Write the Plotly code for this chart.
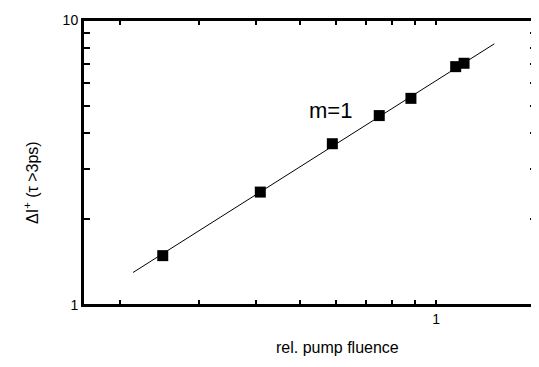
import plotly.graph_objects as go

# data (log-log)
fluence = [0.249, 0.409, 0.590, 0.749, 0.880, 1.105, 1.153]
delta_i = [1.49, 2.49, 3.68, 4.62, 5.31, 6.86, 7.05]
fit_x = [0.214, 1.345]
fit_y = [1.30, 8.25]
x_ticks = [0.2, 0.3, 0.4, 0.5, 0.6, 0.7, 0.8, 0.9, 1]
x_labels = ["", "", "", "", "", "", "", "", "1"]
y_ticks = [1, 2, 3, 4, 5, 6, 7, 8, 9, 10]
y_labels = ["1", "", "", "", "", "", "", "", "", "10"]

FONT = "Liberation Sans, Arial, sans-serif"
XR = [-0.78, 0.223]
YR = [0, 1]

fig = go.Figure()
fig.add_trace(go.Scatter(x=fit_x, y=fit_y, mode="lines",
                         line=dict(color="black", width=1), showlegend=False))
fig.add_trace(go.Scatter(x=fluence, y=delta_i, mode="markers",
                         marker=dict(symbol="square", size=11, color="black"),
                         showlegend=False))

common = dict(ticks="inside", tickwidth=2, tickcolor="black",
              showline=True, linecolor="black", linewidth=2, mirror="ticks",
              showgrid=False, zeroline=False, automargin=False)

# the page body adds an 8px offset; compensate so the plot lands where it should
W, H = 531, 351
l, r, t, b = 75, 2, 12, 54

fig.update_layout(
    width=W, height=H,
    margin=dict(l=l, r=r, t=t, b=b),
    paper_bgcolor="white", plot_bgcolor="white",
    font=dict(family=FONT, color="black", size=14),
    xaxis=dict(type="log", range=XR, tickmode="array", tickvals=x_ticks,
               ticktext=x_labels, ticklen=5, tickfont=dict(size=14), **common),
    yaxis=dict(type="log", range=YR, tickmode="array", tickvals=y_ticks,
               ticktext=y_labels, ticklen=7, tickfont=dict(size=14), **common),
)

# plot frame
fig.add_shape(type="rect", xref="paper", yref="paper", x0=0, y0=0, x1=1, y1=1,
              line=dict(color="black", width=2), layer="above")

pw, ph = W - l - r, H - t - b


def px(x, y):
    # x, y are positions in the 539x367 reference picture
    return (x - 8 - l) / pw, (H - b - (y - 8)) / ph


anns = [
    ("m=1", 330, 110, 22, 0),
    ("rel. pump fluence", 337, 347, 16, 0),
    ("\u0394I<sup>+</sup> (\u03c4 >3ps)", 31, 183, 16, -90),
]
for text, x, y, size, ang in anns:
    ax, ay = px(x, y)
    fig.add_annotation(text=text, x=ax, y=ay, xref="paper", yref="paper",
                       xanchor="center", yanchor="middle", showarrow=False,
                       textangle=ang, font=dict(size=size))

fig.write_html("out.html")
